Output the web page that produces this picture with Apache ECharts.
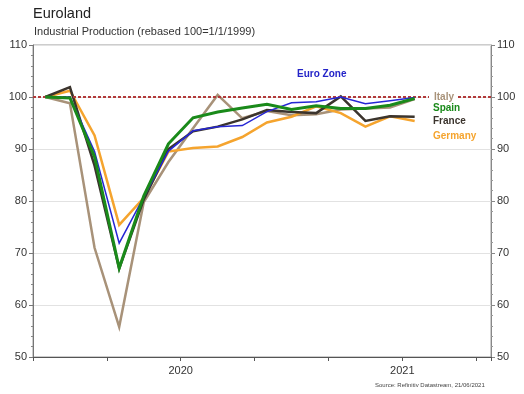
<!DOCTYPE html>
<html>
<head>
<meta charset="utf-8">
<script src="https://cdn.jsdelivr.net/npm/echarts@6/dist/echarts.min.js"></script>
<style>
html,body{margin:0;padding:0;background:#fff;}
#c{width:524px;height:394px;}
</style>
</head>
<body>
<div id="c"></div>
<script>
// Monthly observations, Jan 2020 .. Apr 2021
const months = ['2020-01','2020-02','2020-03','2020-04','2020-05','2020-06','2020-07','2020-08','2020-09','2020-10','2020-11','2020-12','2021-01','2021-02','2021-03','2021-04'];
const euroZone = [100, 100.0, 89.5, 71.9, 80.8, 89.6, 93.5, 94.3, 94.5, 97.2, 98.9, 99.1, 100.0, 98.7, 99.3, 99.9];
const italy    = [100, 98.8, 71.0, 55.8, 79.8, 87.5, 94.0, 100.4, 95.9, 97.3, 96.5, 96.7, 97.6, 97.8, 98.0, 99.6];
const spain    = [100, 99.8, 88.5, 67.1, 81.0, 91.0, 96.0, 97.1, 97.9, 98.6, 97.6, 98.3, 97.8, 97.8, 98.4, 99.7];
const france   = [100, 101.9, 86.8, 67.0, 80.3, 90.0, 93.4, 94.3, 95.7, 97.5, 97.1, 96.9, 100.1, 95.4, 96.3, 96.2];
const germany  = [100, 101.2, 92.6, 75.4, 80.6, 89.5, 90.2, 90.5, 92.3, 95.1, 96.2, 98.2, 96.9, 94.3, 96.3, 95.4];
// x-axis tick labels (ticks every quarter)
const xTickLabels = ['', '2020', '', '', '2021', ''];
const yTicks = [50, 60, 70, 80, 90, 100, 110];
const referenceLevel = 100;

const toPairs = arr => months.map((m, i) => [i, arr[i]]);

const chart = echarts.init(document.getElementById('c'), null, {renderer: 'canvas'});

const xMin = -0.5, xInterval = 3;
function xLabel(v) {
  const k = (v - xMin) / xInterval;
  const r = Math.round(k);
  if (Math.abs(k - r) > 1e-6) return '';
  return xTickLabels[r - 1] || '';
}

const lineSeries = (name, data, color, width, z) => ({
  name, type: 'line', data: toPairs(data), symbol: 'none', smooth: false,
  lineStyle: {color, width, join: 'miter'}, z, animation: false
});

const italyS = lineSeries('Italy', italy, '#a89279', 2.5, 2);
italyS.markLine = {
  silent: true, symbol: ['none', 'none'], animation: false,
  label: {show: false},
  lineStyle: {color: '#b23a3a', type: [3, 2], width: 2},
  data: [{yAxis: referenceLevel}]
};

chart.setOption({
  animation: false,
  backgroundColor: '#fff',
  grid: {left: 33, right: 33, top: 45, bottom: 37, show: true, borderColor: '#9a9a9a', borderWidth: 1},
  xAxis: {
    type: 'value', min: xMin, max: 18.1, interval: xInterval,
    axisLine: {show: true, onZero: false, lineStyle: {color: '#555', width: 1}},
    axisTick: {show: true, length: 4, lineStyle: {color: '#555'}},
    axisLabel: {formatter: xLabel, color: '#333', fontSize: 11, fontFamily: 'Liberation Sans', margin: 8, showMinLabel: true, showMaxLabel: true},
    splitLine: {show: false}
  },
  yAxis: [
    {
      type: 'value', min: yTicks[0], max: yTicks[yTicks.length - 1], interval: 10, position: 'left',
      axisLine: {show: true, onZero: false, lineStyle: {color: '#777'}},
      axisTick: {show: true, length: 4, lineStyle: {color: '#777'}},
      minorTick: {show: true, splitNumber: 5, length: 2, lineStyle: {color: '#888'}},
      axisLabel: {color: '#333', fontSize: 11, fontFamily: 'Liberation Sans', margin: 6},
      splitLine: {show: true, lineStyle: {color: '#e2e2e2', width: 1}}
    },
    {
      type: 'value', min: yTicks[0], max: yTicks[yTicks.length - 1], interval: 10, position: 'right',
      axisLine: {show: true, onZero: false, lineStyle: {color: '#888'}},
      axisTick: {show: true, length: 4, lineStyle: {color: '#888'}},
      minorTick: {show: true, splitNumber: 5, length: 2, lineStyle: {color: '#999'}},
      axisLabel: {color: '#333', fontSize: 11, fontFamily: 'Liberation Sans', margin: 6},
      splitLine: {show: false}
    }
  ],
  series: [
    italyS,
    lineSeries('Germany', germany, '#f5a42e', 2.5, 3),
    lineSeries('France', france, '#3b342d', 2.5, 4),
    lineSeries('Euro Zone', euroZone, '#2626d4', 1.5, 5),
    lineSeries('Spain', spain, '#1a8a1a', 3, 6)
  ],
  graphic: [
    {type: 'text', left: 33, top: 6, z: 100, style: {text: 'Euroland', fill: '#222', font: '14.5px "Liberation Sans"'}},
    {type: 'text', left: 34, top: 26, z: 100, style: {text: 'Industrial Production (rebased 100=1/1/1999)', fill: '#333', font: '11px "Liberation Sans"'}},
    {type: 'text', left: 297, top: 69, z: 100, style: {text: 'Euro Zone', fill: '#2424c8', font: 'bold 10px "Liberation Sans"'}},
    {type: 'text', left: 429, top: 91, z: 100, style: {text: 'Italy', fill: '#a89279', font: 'bold 10px "Liberation Sans"', backgroundColor: '#fff', padding: [1, 4, 1, 5]}},
    {type: 'text', left: 433, top: 103, z: 100, style: {text: 'Spain', fill: '#1a8a1a', font: 'bold 10px "Liberation Sans"'}},
    {type: 'text', left: 433, top: 116, z: 100, style: {text: 'France', fill: '#3b342d', font: 'bold 10px "Liberation Sans"'}},
    {type: 'text', left: 433, top: 131, z: 100, style: {text: 'Germany', fill: '#f5a42e', font: 'bold 10px "Liberation Sans"'}},
    {type: 'text', left: 375, top: 382, z: 100, style: {text: 'Source: Refinitiv Datastream, 21/06/2021', fill: '#444', font: '6px "Liberation Sans"'}}
  ]
});
</script>
</body>
</html>
